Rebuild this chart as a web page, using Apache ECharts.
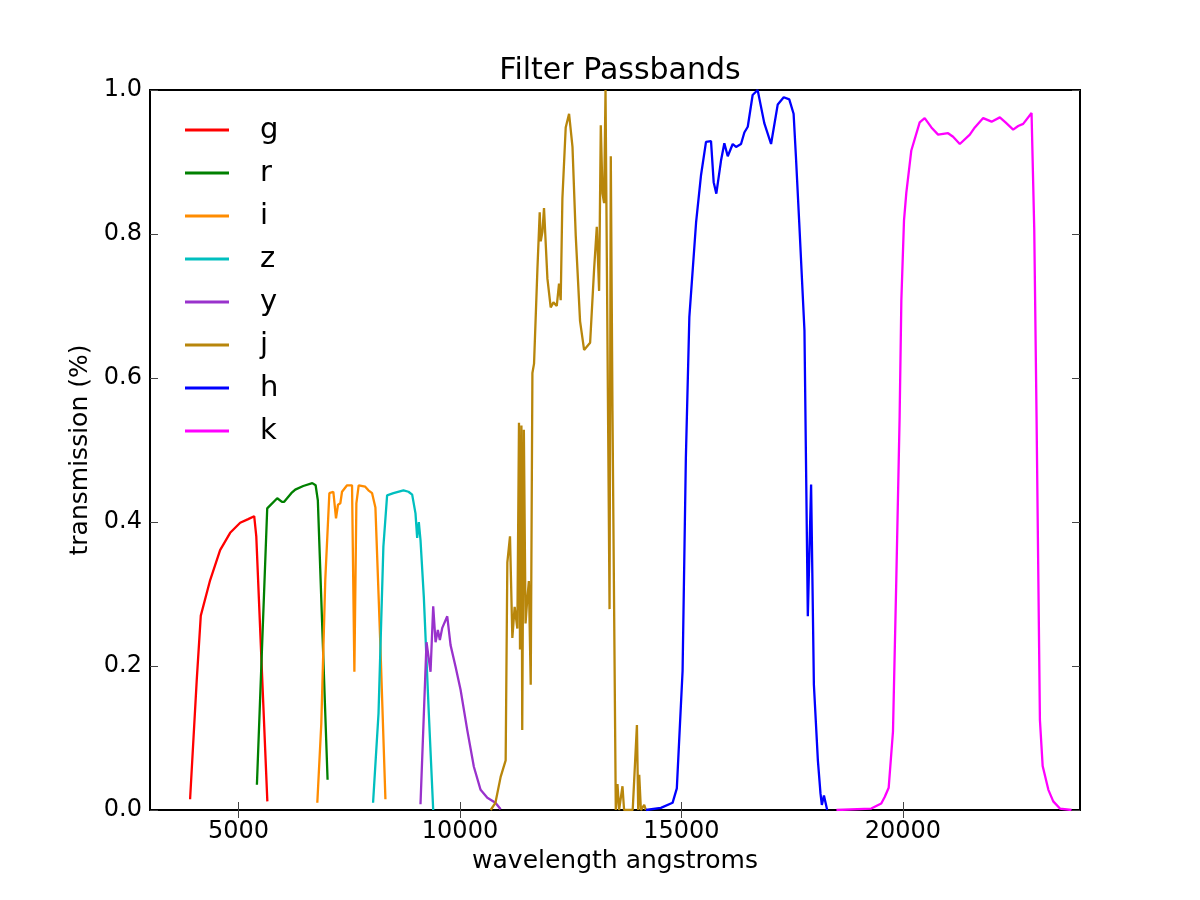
<!DOCTYPE html>
<html>
<head>
<meta charset="utf-8">
<script src="https://cdn.jsdelivr.net/npm/echarts@6/dist/echarts.min.js"></script>
<style>
    html, body { margin: 0; padding: 0; background: #fff; }
    #main-chart { width: 1200px; height: 900px; }
</style>
</head>
<body>
<div id="main-chart"></div>
<script>
// band names + colours (legend order)
var bands = ['g', 'r', 'i', 'z', 'y', 'j', 'h', 'k'];
var colors = ['#ff0000', '#008000', '#ff8c00', '#00bfbf', '#9932cc', '#b8860b', '#0000ff', '#ff00ff'];

var xTicks = [5000, 10000, 15000, 20000];

// [wavelength, transmission]
var gBand = [[3905, 0.015], [4056, 0.181], [4147, 0.27], [4357, 0.319], [4583, 0.361], [4810, 0.385],
    [5036, 0.399], [5217, 0.404], [5353, 0.408], [5400, 0.38], [5650, 0.012]];

var rBand = [[5414, 0.035], [5647, 0.419], [5873, 0.433], [5980, 0.428], [6030, 0.428], [6190, 0.44],
    [6280, 0.445], [6460, 0.45], [6665, 0.454], [6740, 0.451], [6790, 0.43], [7010, 0.042]];

var iBand = [[6778, 0.01], [6868, 0.12], [6958, 0.32], [7050, 0.44], [7140, 0.442], [7200, 0.405],
    [7245, 0.424], [7298, 0.426], [7336, 0.442], [7450, 0.451], [7562, 0.451], [7615, 0.192],
    [7660, 0.426], [7712, 0.451], [7860, 0.449], [7932, 0.444], [8015, 0.44], [8090, 0.42],
    [8203, 0.227], [8316, 0.015]];

var zBand = [[8037, 0.01], [8160, 0.134], [8270, 0.366], [8354, 0.437], [8497, 0.44], [8723, 0.444],
    [8836, 0.442], [8920, 0.438], [8995, 0.412], [9033, 0.378], [9070, 0.40], [9108, 0.375],
    [9183, 0.296], [9296, 0.134], [9395, 0.0]];

var yBand = [[9108, 0.008], [9244, 0.233], [9335, 0.192], [9395, 0.283], [9448, 0.233], [9500, 0.25],
    [9545, 0.236], [9600, 0.253], [9712, 0.269], [9787, 0.229], [9900, 0.199], [10013, 0.167],
    [10164, 0.111], [10313, 0.06], [10465, 0.028], [10617, 0.017], [10800, 0.01], [10918, 0.001]];

var jBand = [[10692, 0.0], [10800, 0.01], [10918, 0.046], [11031, 0.069], [11069, 0.344], [11129, 0.38],
    [11182, 0.239], [11234, 0.282], [11295, 0.252], [11332, 0.538], [11355, 0.223], [11387, 0.534],
    [11405, 0.111], [11442, 0.528], [11480, 0.259], [11518, 0.292], [11555, 0.318], [11597, 0.174],
    [11635, 0.607], [11672, 0.62], [11748, 0.751], [11800, 0.83], [11823, 0.79], [11861, 0.803],
    [11897, 0.836], [11936, 0.836], [11974, 0.738], [12048, 0.698], [12110, 0.705], [12185, 0.70],
    [12236, 0.731], [12274, 0.708], [12312, 0.849], [12387, 0.948], [12463, 0.967], [12540, 0.921],
    [12614, 0.797], [12711, 0.679], [12802, 0.639], [12938, 0.649], [13028, 0.751], [13089, 0.81],
    [13141, 0.721], [13179, 0.951], [13218, 0.856], [13254, 0.843], [13286, 1.0], [13377, 0.279],
    [13405, 0.908], [13443, 0.554], [13518, 0.0], [13556, 0.036], [13592, 0.0], [13669, 0.033],
    [13705, 0.0], [13900, 0.0], [13995, 0.118], [14024, 0.0], [14047, 0.049], [14085, 0.0],
    [14160, 0.007], [14197, 0.0]];

var hBand = [[14197, 0.0], [14536, 0.003], [14800, 0.01], [14896, 0.03], [15026, 0.193], [15100, 0.489],
    [15179, 0.685], [15331, 0.816], [15443, 0.882], [15555, 0.928], [15668, 0.929], [15728, 0.872],
    [15788, 0.856], [15894, 0.902], [15969, 0.926], [16046, 0.908], [16158, 0.925], [16233, 0.921],
    [16346, 0.925], [16421, 0.941], [16498, 0.949], [16608, 0.993], [16721, 1.0], [16871, 0.954],
    [17024, 0.925], [17175, 0.98], [17310, 0.99], [17435, 0.987], [17533, 0.967], [17585, 0.908],
    [17660, 0.816], [17778, 0.666], [17854, 0.269], [17928, 0.452], [17991, 0.174], [18081, 0.069],
    [18140, 0.023], [18171, 0.007], [18218, 0.02], [18291, 0.0]];

var kBand = [[18500, 0.0], [19286, 0.002], [19512, 0.009], [19590, 0.018], [19680, 0.031], [19777, 0.109],
    [19852, 0.32], [19927, 0.546], [19966, 0.708], [20026, 0.819], [20078, 0.857], [20191, 0.916],
    [20380, 0.955], [20493, 0.961], [20644, 0.948], [20796, 0.938], [21021, 0.94], [21134, 0.935],
    [21286, 0.925], [21512, 0.938], [21625, 0.948], [21814, 0.961], [22003, 0.956], [22190, 0.962],
    [22318, 0.955], [22491, 0.945], [22604, 0.95], [22717, 0.953], [22906, 0.968], [22967, 0.806],
    [23019, 0.546], [23095, 0.125], [23157, 0.061], [23286, 0.028], [23396, 0.012], [23547, 0.002],
    [23810, 0.0]];

var bandData = [gBand, rBand, iBand, zBand, yBand, jBand, hBand, kBand];

var myChart = echarts.init(document.getElementById('main-chart'));
var font = 'DejaVu Sans';

var series = [];
for (var i in bands) {
    series.push({
        name: bands[i],
        type: 'line',
        xAxisIndex: 0,
        yAxisIndex: 0,
        symbol: 'none',
        legendIcon: 'rect',
        color: colors[i],
        lineStyle: {width: 2.3, color: colors[i]},
        data: bandData[i]
    });
}

var tickStyle = {show: true, inside: true, length: 8, lineStyle: {color: '#444', width: 1}};

var option = {
    animation: false,
    backgroundColor: '#fff',
    title: {
        text: 'Filter Passbands',
        left: 615,
        top: 51,
        textAlign: 'center',
        textStyle: {fontFamily: font, fontSize: 30, fontWeight: 'normal', color: '#000'}
    },
    legend: {
        data: bands,
        orient: 'vertical',
        left: 180,
        top: 110,
        icon: 'rect',
        itemWidth: 44,
        itemHeight: 3,
        itemGap: 13,
        textStyle: {fontFamily: font, fontSize: 29, lineHeight: 30, color: '#000', padding: [0, 0, 0, 26]}
    },
    grid: {
        left: 150,
        right: 120,
        top: 90,
        bottom: 90,
        show: true,
        borderColor: '#000',
        borderWidth: 2,
        containLabel: false
    },
    xAxis: [{
        type: 'value',
        min: 3000,
        max: 24000,
        name: 'wavelength angstroms',
        nameLocation: 'middle',
        nameGap: 39,
        nameTextStyle: {fontFamily: font, fontSize: 25, color: '#000'},
        axisLine: {show: false},
        splitLine: {show: false},
        axisTick: {show: true, inside: true, length: 8, lineStyle: {color: '#444', width: 1}, customValues: xTicks},
        axisLabel: {
            fontFamily: font, fontSize: 24, color: '#000', margin: 10, customValues: xTicks,
            formatter: function (v) { return String(v); }
        }
    }, {
        type: 'value',
        position: 'top',
        min: 3000,
        max: 24000,
        axisLine: {show: false},
        splitLine: {show: false},
        axisTick: {show: true, inside: true, length: 8, lineStyle: {color: '#444', width: 1}, customValues: xTicks},
        axisLabel: {show: false, customValues: xTicks}
    }],
    yAxis: [{
        type: 'value',
        min: 0,
        max: 1,
        interval: 0.2,
        name: 'transmission (%)',
        nameLocation: 'middle',
        nameGap: 56,
        nameTextStyle: {fontFamily: font, fontSize: 25, color: '#000'},
        axisLine: {show: false},
        splitLine: {show: false},
        axisTick: tickStyle,
        axisLabel: {
            fontFamily: font, fontSize: 24, color: '#000', margin: 8,
            formatter: function (v) { return v.toFixed(1); }
        }
    }, {
        type: 'value',
        position: 'right',
        min: 0,
        max: 1,
        interval: 0.2,
        axisLine: {show: false},
        splitLine: {show: false},
        axisTick: tickStyle,
        axisLabel: {show: false}
    }],
    series: series
};

myChart.setOption(option);
</script>
</body>
</html>
